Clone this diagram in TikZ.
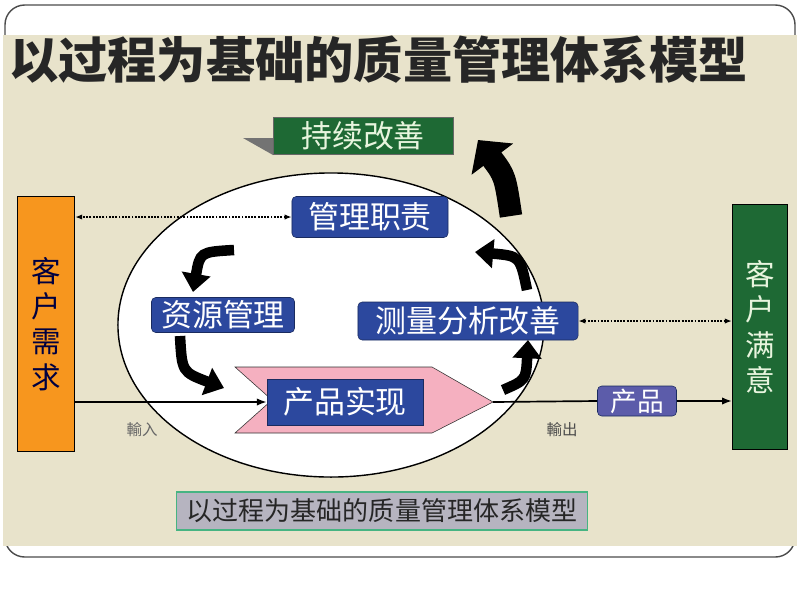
\documentclass[tikz,border=0pt]{standalone}
\usepackage{fontspec}
\newfontfamily\cjk{Noto Sans CJK SC}
\usetikzlibrary{arrows.meta}
\definecolor{paper}{RGB}{232,227,203}
\definecolor{darkgreen}{RGB}{30,105,52}
\definecolor{paletext}{RGB}{232,245,222}
\definecolor{procblue}{RGB}{44,72,158}
\definecolor{prodblue}{RGB}{92,92,170}
\definecolor{pinkarrow}{RGB}{245,176,192}
\definecolor{custorange}{RGB}{247,150,30}
\definecolor{capgray}{RGB}{182,180,192}
\definecolor{capgreen}{RGB}{70,180,130}
\begin{document}
\begin{tikzpicture}[x=0.025cm, y=-0.025cm,
    every node/.style={font=\cjk},
    procbox/.style={rectangle, rounded corners=3pt, draw=procblue!60!black, fill=procblue, text=white,
      font=\cjk\fontsize{22}{22}\selectfont, inner sep=0pt},
    custbox/.style={rectangle, draw=black, thick, align=center, inner sep=0pt,
      font=\cjk\fontsize{21}{25}\selectfont},
    cycle/.style={line width=7.5pt, -{Triangle[length=13pt, width=20pt]}},
    link/.style={densely dotted, line width=1.3pt, {Latex[length=5pt]}-{Latex[length=5pt]}},
    flow/.style={line width=1.2pt, -{Latex[length=7pt]}}]
  % page and frame
  \useasboundingbox (0,0) rectangle (800,600);
  \fill[white] (0,0) rectangle (800,600);
  \draw[line width=1pt, black!70, rounded corners=14pt] (5,5) rectangle (795,557);
  \fill[paper] (3,35) rectangle (797,546);
  \node[anchor=west, font=\cjk\bfseries\fontsize{35}{35}\selectfont, text=black!85, inner sep=0pt] (title) at (9,60) {以过程为基础的质量管理体系模型};

  % model
  \draw[fill=white, line width=1pt] (331,325) ellipse [x radius=5.325cm, y radius=3.8cm];
  \fill[black!55] (243,138) -- (273,138) -- (273,155) -- cycle;
  \node[rectangle, fill=darkgreen, draw=black!60, text=paletext, font=\cjk\fontsize{22}{22}\selectfont,
    minimum width=4.5cm, minimum height=0.925cm, inner sep=0pt] (improve) at (363,136) {持续改善};
  \node[procbox, minimum width=3.9cm, minimum height=1.025cm] (duty) at (370,217) {管理职责};
  \node[procbox, minimum width=3.575cm, minimum height=0.875cm] (resource) at (223,315) {资源管理};
  \node[procbox, minimum width=5.5cm, minimum height=0.95cm] (measure) at (468,321) {测量分析改善};
  \filldraw[fill=pinkarrow, draw=black!80] (235,367) -- (432,367) -- (493,402) -- (432,433) -- (235,433) -- (272,400) -- cycle;
  \coordinate (tip) at (493,402);
  \node[procbox, rounded corners=0pt, minimum width=3.9cm, minimum height=1.15cm] (realize) at (345,402) {产品实现};
  \node[procbox, fill=prodblue, font=\cjk\fontsize{19}{19}\selectfont,
    minimum width=1.975cm, minimum height=0.75cm] (product) at (637,401) {产品};

  \node[custbox, fill=custorange, text=black!75!blue, minimum width=1.425cm, minimum height=6.375cm] (need) at (46,324) {客\\户\\需\\求};
  \node[custbox, fill=darkgreen, text=paletext, minimum width=1.375cm, minimum height=6.125cm] (satisfy) at (760,327) {客\\户\\满\\意};

  % cycle arrows
  \draw[cycle] (234,250) .. controls (200,252) .. (193,292);
  \draw[cycle] (180,336) .. controls (182,372) .. (224,388);
  \draw[cycle] (503,390) .. controls (526,380) .. (528,340);
  \draw[cycle] (527,290) .. controls (520,256) .. (475,252);
  \draw[line width=16pt, -{Triangle[length=17pt, width=36pt]}] (511,216) .. controls (505,176) .. (478,140);

  % flows
  \draw[link] (duty.west) -- (duty.west -| need.east);
  \draw[link] (measure.east) -- (measure.east -| satisfy.west);
  \draw[flow] (realize.west -| need.east) -- (realize.west);
  \draw[line width=1.2pt] (tip) -- (product.west);
  \draw[flow] (product.east) -- (product.east -| satisfy.west);
  \node[text=black!60, font=\cjk\fontsize{11}{11}\selectfont] (inlabel) at (142,430) {輸入};
  \node[text=black!70, font=\cjk\fontsize{11}{11}\selectfont] (outlabel) at (562,430) {輸出};

  % caption
  \node[rectangle, fill=capgray, draw=capgreen, line width=1.2pt, text=black!85,
    font=\cjk\fontsize{18.5}{18.5}\selectfont, minimum width=10.275cm, minimum height=0.95cm] (caption) at (382,511) {以过程为基础的质量管理体系模型};
\end{tikzpicture}
\end{document}
